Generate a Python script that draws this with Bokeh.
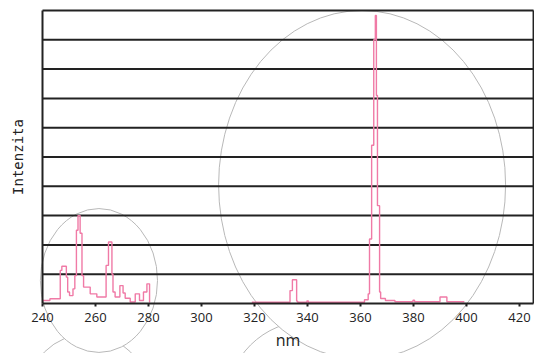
from bokeh.plotting import figure
from bokeh.models import Range1d, FixedTicker
from bokeh.embed import file_html
from bokeh.resources import INLINE

# ---- data (wavelength breakpoints in nm, relative intensity) ----
wl_uv = [240.0, 242.8, 246.7, 247.3, 249.0, 249.5, 250.2, 251.5, 252.2, 252.8,
         253.4, 254.2, 254.9, 255.5, 258.0, 260.5, 264.0, 264.9, 266.2, 266.6,
         267.4, 269.2, 270.4, 271.2, 273.1, 275.0, 276.6, 278.1, 279.4, 280.4, 280.6]
int_uv = [1.0, 1.6, 11.3, 12.7, 9.0, 3.9, 2.7, 5.0, 9.5, 25.0,
          30.0, 24.0, 9.5, 5.6, 3.3, 2.2, 13.0, 21.0, 10.0, 3.9,
          2.2, 6.1, 3.6, 1.8, 0.5, 3.3, 1.0, 3.9, 6.7, 0.5, 0.5]

wl_vis = [319.0, 333.4, 334.3, 335.9, 336.3, 339.8, 340.3, 361.5, 362.9, 363.4,
          364.2, 365.0, 365.6, 366.0, 366.4, 367.2, 367.6, 369.4, 373.0, 379.8,
          380.4, 390.0, 392.6, 399.2]
int_vis = [0.45, 4.4, 8.1, 0.8, 0.45, 0.9, 0.45, 1.3, 3.3, 22.0,
           54.0, 90.0, 98.3, 71.0, 33.4, 3.9, 1.7, 1.0, 0.6, 1.1,
           0.6, 2.2, 0.6, 0.6]

x_ticks = [240, 260, 280, 300, 320, 340, 360, 380, 400, 420]
y_grid = [10, 20, 30, 40, 50, 60, 70, 80, 90, 100]
x_end = 425.3

# decorative outlines (centre nm, centre intensity, width nm, height intensity)
bg_circ_x = [256.98, 340.38]
bg_circ_y = [-31.06, -33.96]
bg_circ_w = [45.66, 61.9]
bg_circ_h = [41.3, 56.0]
fg_ell_x = [261.3, 360.6]
fg_ell_y = [7.85, 40.5]
fg_ell_w = [44.2, 108.3]
fg_ell_h = [49.1, 119.0]

p = figure(width=534, height=353, output_backend="svg", toolbar_location=None,
           x_range=Range1d(224.151, 425.66), y_range=Range1d(-17.065, 103.41),
           x_axis_label="nm", y_axis_label="Intenzita")
p.min_border = 0
p.min_border_left = 0
p.min_border_right = 0
p.min_border_top = 0
p.min_border_bottom = 0
p.outline_line_color = None
p.grid.visible = False
p.background_fill_color = "white"
p.border_fill_color = "white"

GRAY = "#b8b8b8"
DARK = "#222222"

p.ellipse(x=bg_circ_x, y=bg_circ_y, width=bg_circ_w, height=bg_circ_h,
          fill_color=None, line_color=GRAY, line_width=1)
p.ellipse(x=fg_ell_x, y=fg_ell_y, width=fg_ell_w, height=fg_ell_h,
          fill_color="white", line_color=GRAY, line_width=1)

# horizontal grid / frame lines
p.segment(x0=[240] * len(y_grid), y0=y_grid, x1=[x_end] * len(y_grid), y1=y_grid,
          line_color=DARK, line_width=2)
p.segment(x0=[x_end], y0=[0], x1=[x_end], y1=[100], line_color=DARK, line_width=2)

p.step(wl_uv, int_uv, mode="after", line_color="#f07aa6", line_width=1.4)
p.step(wl_vis, int_vis, mode="after", line_color="#f07aa6", line_width=1.4)

xa = p.xaxis[0]
xa.fixed_location = 0
xa.bounds = (240, x_end)
xa.ticker = FixedTicker(ticks=x_ticks)
xa.axis_line_color = DARK
xa.axis_line_width = 2
xa.major_tick_in = 0
xa.major_tick_out = 3
xa.major_tick_line_width = 2
xa.major_tick_line_color = DARK
xa.minor_tick_line_color = None
xa.major_label_text_font = "Open Sans"
xa.major_label_text_font_size = "13px"
xa.major_label_text_color = DARK
xa.major_label_standoff = 7
xa.axis_label_text_font = "Open Sans"
xa.axis_label_text_font_size = "16px"
xa.axis_label_text_font_style = "normal"
xa.axis_label_text_color = DARK
xa.axis_label_standoff = 3

ya = p.yaxis[0]
ya.fixed_location = 240
ya.bounds = (0, 100)
ya.ticker = FixedTicker(ticks=[])
ya.axis_line_color = DARK
ya.axis_line_width = 2
ya.major_tick_in = 0
ya.major_tick_out = 0
ya.minor_tick_line_color = None
ya.major_label_standoff = 0
ya.axis_label_text_font = "DejaVu Sans Mono"
ya.axis_label_text_font_size = "14px"
ya.axis_label_text_font_style = "normal"
ya.axis_label_text_color = DARK
ya.axis_label_standoff = 17

open("out.html", "w").write(file_html(p, INLINE))
